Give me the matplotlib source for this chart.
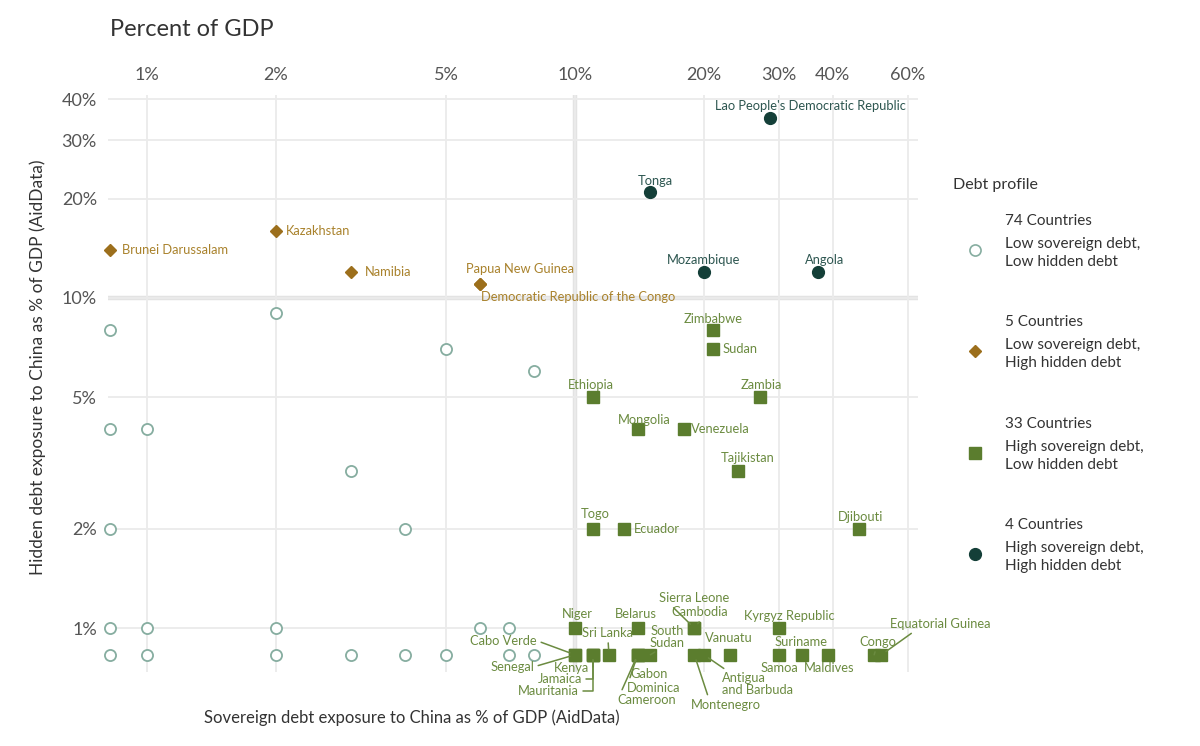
import matplotlib.pyplot as plt
from matplotlib.lines import Line2D
from matplotlib.ticker import NullLocator

plt.rcParams['font.family'] = ['Lato', 'DejaVu Sans']

# --- data (% of GDP) ---------------------------------------------------------
# low sovereign debt, low hidden debt (unlabelled, many countries overlap)
ll_x = [0.82, 2, 5, 8, 0.82, 1, 3, 0.82, 4,
        0.82, 1, 2, 6, 7,
        0.82, 1, 2, 3, 4, 5, 7, 8]
ll_y = [8, 9, 7, 6, 4, 4, 3, 2, 2,
        1, 1, 1, 1, 1,
        0.83, 0.83, 0.83, 0.83, 0.83, 0.83, 0.83, 0.83]

# low sovereign debt, high hidden debt
lh_names = ['Brunei Darussalam', 'Kazakhstan', 'Namibia', 'Papua New Guinea',
            'Democratic Republic of the Congo']
lh_x = [0.82, 2, 3, 6, 6]
lh_y = [14, 16, 12, 11, 11]

# high sovereign debt, low hidden debt
hl_names = ['Zimbabwe', 'Sudan', 'Ethiopia', 'Zambia', 'Mongolia', 'Venezuela',
            'Tajikistan', 'Togo', 'Ecuador', 'Djibouti',
            'Niger', 'Belarus', 'Sierra Leone', 'Cambodia', 'Kyrgyz Republic',
            'Cabo Verde', 'Senegal', 'Kenya', 'Jamaica', 'Mauritania',
            'Sri Lanka', 'Gabon', 'Dominica', 'Cameroon', 'South\nSudan',
            'Montenegro', 'Antigua\nand Barbuda', 'Vanuatu', 'Samoa',
            'Suriname', 'Maldives', 'Congo', 'Equatorial Guinea']
hl_x = [21, 21, 11, 27, 14, 18, 24, 11, 13, 46,
        10, 14, 19, 19, 30,
        10, 10, 11, 11, 11,
        12, 14, 14, 14, 15,
        19, 20, 23, 30, 34, 39, 50, 52]
hl_y = [8, 7, 5, 5, 4, 4, 3, 2, 2, 2,
        1, 1, 1, 1, 1,
        0.83, 0.83, 0.83, 0.83, 0.83,
        0.83, 0.83, 0.83, 0.83, 0.83,
        0.83, 0.83, 0.83, 0.83, 0.83, 0.83, 0.83, 0.83]

# high sovereign debt, high hidden debt
hh_names = ["Lao People's Democratic Republic", 'Tonga', 'Mozambique', 'Angola']
hh_x = [28.6, 15, 20, 37]
hh_y = [35, 21, 12, 12]

x_ticks = [1, 2, 5, 10, 20, 30, 40, 60]
y_ticks = [1, 2, 5, 10, 20, 30, 40]

legend_counts = ['74 Countries', '5 Countries', '33 Countries', '4 Countries']
legend_desc = ['Low sovereign debt,\nLow hidden debt',
               'Low sovereign debt,\nHigh hidden debt',
               'High sovereign debt,\nLow hidden debt',
               'High sovereign debt,\nHigh hidden debt']

# --- style -------------------------------------------------------------------
c_ll = '#86ada0'
c_lh, c_lh_txt = '#9c6f1c', '#a9822c'
c_hl, c_hl_txt = '#5b7d2e', '#6b8b40'
c_hh, c_hh_txt = '#143f38', '#2d5650'

# label placement: offset in pixels, alignment, connector
# connector: None, 'elbow' or relpos tuple for a straight line
label_pos = {
    'Brunei Darussalam': (12, 0, 'left', None),
    'Kazakhstan': (10, 0, 'left', None),
    'Namibia': (14, 0, 'left', None),
    'Papua New Guinea': (-14, 15, 'left', None),
    'Democratic Republic of the Congo': (1, -13, 'left', None),
    "Lao People's Democratic Republic": (40, 12, 'center', None),
    'Tonga': (5, 11, 'center', None),
    'Mozambique': (0, 12, 'center', None),
    'Angola': (6, 12, 'center', None),
    'Zimbabwe': (0, 11, 'center', None),
    'Sudan': (10, 0, 'left', None),
    'Ethiopia': (-2, 12, 'center', None),
    'Zambia': (2, 12, 'center', None),
    'Mongolia': (7, 9, 'center', None),
    'Venezuela': (7, 0, 'left', None),
    'Tajikistan': (10, 13, 'center', None),
    'Togo': (2, 15, 'center', None),
    'Ecuador': (10, 0, 'left', None),
    'Djibouti': (2, 12, 'center', None),
    'Niger': (2, 14, 'center', None),
    'Belarus': (-2, 14, 'center', None),
    'Sierra Leone': (0, 30, 'center', (0.15, 0)),
    'Cambodia': (5, 16, 'center', (0.55, 0)),
    'Kyrgyz Republic': (10, 12, 'center', None),
    'Cabo Verde': (-38, 14, 'right', (1, 0.5)),
    'Senegal': (-41, -12, 'right', (1, 0.5)),
    'Kenya': (-4, -13, 'right', 'elbow'),
    'Jamaica': (-11, -24, 'right', 'elbow'),
    'Mauritania': (-14, -36, 'right', 'elbow'),
    'Sri Lanka': (-1, 22, 'center', (0.5, 0)),
    'Gabon': (-7, -19, 'left', (0, 0.5)),
    'Dominica': (-11, -33, 'left', (0, 0.5)),
    'Cameroon': (-20, -45, 'left', (0, 0.5)),
    'South\nSudan': (17, 18, 'center', (0.3, 0)),
    'Montenegro': (32, -50, 'center', (0.25, 1)),
    'Antigua\nand Barbuda': (18, -29, 'left', (0.1, 1)),
    'Vanuatu': (-1, 17, 'center', None),
    'Samoa': (0, -13, 'center', None),
    'Suriname': (-1, 13, 'center', None),
    'Maldives': (1, -13, 'center', None),
    'Congo': (4, 13, 'center', (0.45, 0)),
    'Equatorial Guinea': (59, 31, 'center', (0.26, 0)),
}


def label(ax, name, x, y, color):
    dx, dy, ha, conn = label_pos[name]
    kw = {}
    if conn == 'elbow':
        kw['arrowprops'] = dict(arrowstyle='-', color=color, lw=1.1, shrinkA=1,
                                shrinkB=4, relpos=(1, 0.5),
                                connectionstyle='angle,angleA=0,angleB=90,rad=0')
    elif conn is not None:
        kw['arrowprops'] = dict(arrowstyle='-', color=color, lw=1.1, shrinkA=1,
                                shrinkB=4, relpos=conn)
    ax.annotate(name, (x, y), xytext=(dx, dy), textcoords='offset pixels',
                ha=ha, va='center', fontsize=9.3, color=color,
                linespacing=0.95, zorder=4, **kw)


W, H = 1200, 746
fig = plt.figure(figsize=(12, 7.46), dpi=100)
ax = fig.add_axes([108 / W, 1 - 672 / H, 810 / W, 577 / H])

ax.set_xscale('log')
ax.set_yscale('log')
ax.set_xlim(0.81, 63.3)
ax.set_ylim(0.736, 41.2)
ax.set_xticks(x_ticks)
ax.set_xticklabels(['{}%'.format(v) for v in x_ticks])
ax.set_yticks(y_ticks)
ax.set_yticklabels(['{}%'.format(v) for v in y_ticks])
ax.xaxis.set_minor_locator(NullLocator())
ax.yaxis.set_minor_locator(NullLocator())
ax.xaxis.tick_top()
ax.tick_params(length=0, labelsize=13, labelcolor='#555555')
ax.tick_params(axis='x', pad=9)
ax.tick_params(axis='y', pad=8)
for s in ax.spines.values():
    s.set_visible(False)
ax.grid(True, color='#ebebeb', lw=1.3, zorder=0)
ax.set_axisbelow(True)
ax.axvline(10, color='#e3e3e3', lw=3.2, zorder=0.5)
ax.axhline(10, color='#e3e3e3', lw=3.2, zorder=0.5)

ax.plot(ll_x, ll_y, 'o', ms=8, mfc='white', mec=c_ll, mew=1.3, ls='none',
        zorder=3, clip_on=False)
ax.plot(lh_x, lh_y, 'D', ms=6, color=c_lh, ls='none', zorder=3, clip_on=False)
ax.plot(hl_x, hl_y, 's', ms=8, color=c_hl, ls='none', zorder=3, clip_on=False)
ax.plot(hh_x, hh_y, 'o', ms=8.5, color=c_hh, ls='none', zorder=3, clip_on=False)

for n, x, y in zip(lh_names, lh_x, lh_y):
    label(ax, n, x, y, c_lh_txt)
for n, x, y in zip(hl_names, hl_x, hl_y):
    label(ax, n, x, y, c_hl_txt)
for n, x, y in zip(hh_names, hh_x, hh_y):
    label(ax, n, x, y, c_hh_txt)

fig.text(110 / W, 1 - 30 / H, 'Percent of GDP', fontsize=17, color='#333333',
         ha='left', va='center')
fig.text(204 / W, 1 - 718 / H,
         'Sovereign debt exposure to China as % of GDP (AidData)',
         fontsize=12, color='#333333', ha='left', va='center')
fig.text(38 / W, 1 - 367 / H,
         'Hidden debt exposure to China as % of GDP (AidData)',
         fontsize=12.5, color='#333333', ha='center', va='center',
         rotation=90)

# legend, built by hand
fig.text(953 / W, 1 - 185 / H, 'Debt profile', fontsize=11.5, color='#333333',
         ha='left', va='center')
markers = [dict(marker='o', ms=8, mfc='white', mec=c_ll, mew=1.2),
           dict(marker='D', ms=6, color=c_lh),
           dict(marker='s', ms=8, color=c_hl),
           dict(marker='o', ms=8.5, color=c_hh)]
for i, (cnt, desc, mk) in enumerate(zip(legend_counts, legend_desc, markers)):
    top = 221 + i * 101.3
    fig.text(1005 / W, 1 - top / H, cnt, fontsize=11, color='#333333',
             ha='left', va='center')
    fig.text(1005 / W, 1 - (top + 32) / H, desc, fontsize=11, color='#333333',
             ha='left', va='center', linespacing=1.35)
    fig.add_artist(Line2D([975 / W], [1 - (top + 29) / H], ls='none',
                          transform=fig.transFigure, **mk))

fig.savefig('out.png', dpi=100)
